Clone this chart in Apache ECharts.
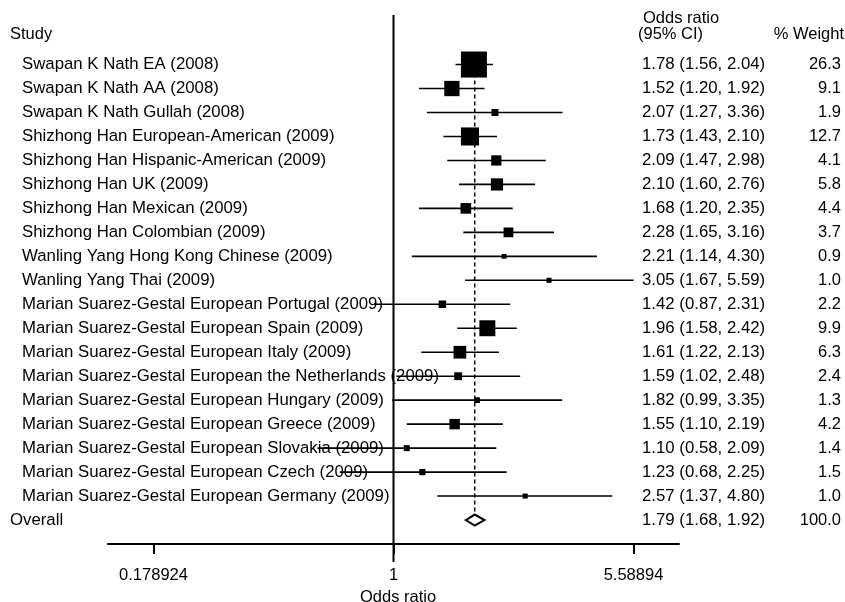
<!DOCTYPE html>
<html>
<head>
<meta charset="utf-8">
<title>Forest plot</title>
<script src="https://cdn.jsdelivr.net/npm/echarts@6/dist/echarts.min.js"></script>
<style>
  html, body { margin: 0; padding: 0; background: #fff; }
  #main { width: 845px; height: 602px; }
</style>
</head>
<body>
<div id="main"></div>
<script>
// study rows, top to bottom
var studies = [
    'Swapan K Nath EA (2008)',
    'Swapan K Nath AA (2008)',
    'Swapan K Nath Gullah (2008)',
    'Shizhong Han European-American (2009)',
    'Shizhong Han Hispanic-American (2009)',
    'Shizhong Han UK (2009)',
    'Shizhong Han Mexican (2009)',
    'Shizhong Han Colombian (2009)',
    'Wanling Yang Hong Kong Chinese (2009)',
    'Wanling Yang Thai (2009)',
    'Marian Suarez-Gestal European Portugal (2009)',
    'Marian Suarez-Gestal European Spain (2009)',
    'Marian Suarez-Gestal European Italy (2009)',
    'Marian Suarez-Gestal European the Netherlands (2009)',
    'Marian Suarez-Gestal European Hungary (2009)',
    'Marian Suarez-Gestal European Greece (2009)',
    'Marian Suarez-Gestal European Slovakia (2009)',
    'Marian Suarez-Gestal European Czech (2009)',
    'Marian Suarez-Gestal European Germany (2009)'
];
var oddsRatio = [1.78, 1.52, 2.07, 1.73, 2.09, 2.10, 1.68, 2.28, 2.21, 3.05, 1.42, 1.96, 1.61, 1.59, 1.82, 1.55, 1.10, 1.23, 2.57];
var ciLower   = [1.56, 1.20, 1.27, 1.43, 1.47, 1.60, 1.20, 1.65, 1.14, 1.67, 0.87, 1.58, 1.22, 1.02, 0.99, 1.10, 0.58, 0.68, 1.37];
var ciUpper   = [2.04, 1.92, 3.36, 2.10, 2.98, 2.76, 2.35, 3.16, 4.30, 5.59, 2.31, 2.42, 2.13, 2.48, 3.35, 2.19, 2.09, 2.25, 4.80];
var weights   = [26.3, 9.1, 1.9, 12.7, 4.1, 5.8, 4.4, 3.7, 0.9, 1.0, 2.2, 9.9, 6.3, 2.4, 1.3, 4.2, 1.4, 1.5, 1.0];

var overallLabel = 'Overall';
var overallOR = [1.79];
var overallLower = [1.68];
var overallUpper = [1.92];
var overallWeight = [100.0];

var xTickValues = [0.178924, 1, 5.58894];
var xTickLabels = ['0.178924', '1', '5.58894'];

var FONT = 'Liberation Sans, Arial, sans-serif';
var overallRow = studies.length;

function fmtCI(o, l, u) {
    return o.toFixed(2) + ' (' + l.toFixed(2) + ', ' + u.toFixed(2) + ')';
}
var ciText = studies.map(function (s, i) { return fmtCI(oddsRatio[i], ciLower[i], ciUpper[i]); });
ciText.push(fmtCI(overallOR[0], overallLower[0], overallUpper[0]));
var weightText = weights.map(function (w) { return w.toFixed(1); });
weightText.push(overallWeight[0].toFixed(1));

var studyRows = studies.map(function (s, i) { return i; });
var allRows = studyRows.concat([overallRow]);

var studyData = studies.map(function (s, i) {
    return [Math.log(oddsRatio[i]), i, Math.log(ciLower[i]), Math.log(ciUpper[i]), weights[i]];
});
var overallData = [[Math.log(overallOR[0]), overallRow, Math.log(overallLower[0]), Math.log(overallUpper[0])]];

function rowAxis(extra) {
    var ax = {
        type: 'value',
        min: -2,
        max: 20,
        inverse: true,
        axisLine: { show: false },
        axisTick: { show: false },
        splitLine: { show: false }
    };
    return echarts.util.merge(ax, extra, true);
}

var dom = document.getElementById('main');
var myChart = echarts.init(dom, null, { renderer: 'canvas' });

var option = {
    backgroundColor: '#fff',
    animation: false,
    textStyle: { fontFamily: FONT, color: '#000' },
    title: [
        { text: 'Study', left: 10, top: 26, padding: 0,
          textStyle: { fontSize: 16.5, fontWeight: 'normal', fontFamily: FONT, color: '#000' } },
        { text: 'Odds ratio', left: 643, top: 10, padding: 0,
          textStyle: { fontSize: 16.5, fontWeight: 'normal', fontFamily: FONT, color: '#000' } },
        { text: '(95% CI)', left: 638, top: 26, padding: 0,
          textStyle: { fontSize: 16.5, fontWeight: 'normal', fontFamily: FONT, color: '#000' } },
        { text: '% Weight', right: 1, top: 26, padding: 0,
          textStyle: { fontSize: 16.5, fontWeight: 'normal', fontFamily: FONT, color: '#000' } }
    ],
    grid: {
        left: 108,
        right: 166,
        top: 16.6,
        bottom: 58,
        containLabel: false,
        outerBoundsMode: 'none'
    },
    xAxis: {
        type: 'value',
        min: -2.047,
        max: 2.047,
        splitLine: { show: false },
        axisLine: { show: true, onZero: false, lineStyle: { color: '#000', width: 2 } },
        axisTick: {
            show: true,
            length: 10,
            customValues: xTickValues.map(Math.log),
            lineStyle: { color: '#000', width: 2 }
        },
        axisLabel: {
            show: true,
            margin: 23,
            fontSize: 16.5,
            color: '#000',
            fontFamily: FONT,
            customValues: xTickValues.map(Math.log),
            formatter: function (v) {
                var best = 0;
                for (var i = 1; i < xTickValues.length; i++) {
                    if (Math.abs(Math.log(xTickValues[i]) - v) < Math.abs(Math.log(xTickValues[best]) - v)) best = i;
                }
                return xTickLabels[best];
            }
        },
        name: 'Odds ratio',
        nameLocation: 'middle',
        nameGap: 41,
        nameTextStyle: { fontSize: 16.5, color: '#000', fontFamily: FONT, padding: [0, 0, 0, 9] }
    },
    yAxis: [
        // study names
        rowAxis({
            position: 'left',
            axisLabel: {
                show: true, align: 'left', margin: 86, fontSize: 16.8, color: '#000', fontFamily: FONT,
                customValues: studyRows,
                formatter: function (v) { return studies[Math.round(v)]; }
            }
        }),
        // overall label
        rowAxis({
            position: 'left',
            axisLabel: {
                show: true, align: 'left', margin: 98, fontSize: 16.8, color: '#000', fontFamily: FONT,
                customValues: [overallRow],
                formatter: function () { return overallLabel; }
            }
        }),
        // odds ratio (95% CI) column
        rowAxis({
            position: 'right',
            axisLabel: {
                show: true, align: 'left', margin: -37, fontSize: 16.8, color: '#000', fontFamily: FONT,
                customValues: allRows,
                formatter: function (v) { return ciText[Math.round(v)]; }
            }
        }),
        // % weight column
        rowAxis({
            position: 'right',
            axisLabel: {
                show: true, align: 'right', margin: 162, fontSize: 16.5, color: '#000', fontFamily: FONT,
                customValues: allRows,
                formatter: function (v) { return weightText[Math.round(v)]; }
            }
        })
    ],
    series: [
        {
            // line of no effect (OR = 1)
            type: 'custom',
            clip: false,
            z: 1,
            data: [[0, -2.07, 20.75]],
            renderItem: function (params, api) {
                var a = api.coord([api.value(0), api.value(1)]);
                var b = api.coord([api.value(0), api.value(2)]);
                return {
                    type: 'line',
                    shape: { x1: a[0], y1: a[1], x2: b[0], y2: b[1] },
                    style: { stroke: '#000', lineWidth: 2 }
                };
            }
        },
        {
            // overall estimate: dashed line + diamond
            type: 'custom',
            clip: false,
            z: 2,
            data: overallData,
            renderItem: function (params, api) {
                var y = api.value(1);
                var c = api.coord([api.value(0), y]);
                var l = api.coord([api.value(2), y]);
                var r = api.coord([api.value(3), y]);
                var top = api.coord([api.value(0), -0.5]);
                var h = 5.5;
                return {
                    type: 'group',
                    children: [
                        {
                            type: 'line',
                            shape: { x1: c[0], y1: top[1], x2: c[0], y2: c[1] - h },
                            style: { stroke: '#000', lineWidth: 1.5, lineDash: [4, 3] }
                        },
                        {
                            type: 'polygon',
                            shape: { points: [[l[0], c[1]], [c[0], c[1] - h], [r[0], c[1]], [c[0], c[1] + h]] },
                            style: { fill: '#fff', stroke: '#000', lineWidth: 2 }
                        }
                    ]
                };
            }
        },
        {
            // individual studies: CI line + weighted box
            type: 'custom',
            clip: false,
            z: 3,
            data: studyData,
            renderItem: function (params, api) {
                var y = api.value(1);
                var p = api.coord([api.value(0), y]);
                var a = api.coord([api.value(2), y]);
                var b = api.coord([api.value(3), y]);
                var s = 5.07 * Math.sqrt(api.value(4));
                return {
                    type: 'group',
                    children: [
                        {
                            type: 'line',
                            shape: { x1: a[0], y1: a[1], x2: b[0], y2: b[1] },
                            style: { stroke: '#000', lineWidth: 1.6 }
                        },
                        {
                            type: 'rect',
                            shape: { x: p[0] - s / 2, y: p[1] - s / 2, width: s, height: s },
                            style: { fill: '#000' }
                        }
                    ]
                };
            }
        }
    ]
};
myChart.setOption(option, true);
</script>
</body>
</html>
